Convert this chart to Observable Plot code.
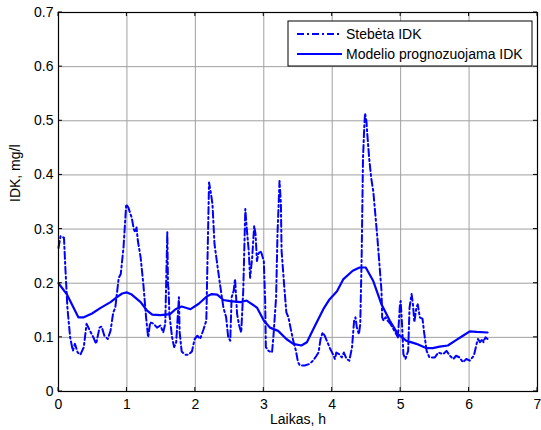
<!DOCTYPE html>
<html>
<head>
<meta charset="utf-8">
<script src="https://cdn.jsdelivr.net/npm/d3@7"></script>
<script src="https://cdn.jsdelivr.net/npm/@observablehq/plot@0.6"></script>
<style>
  html, body { margin: 0; padding: 0; background: #fff; }
  #chart svg { display: block; }
</style>
</head>
<body>
<div id="chart"></div>
<script>
// Observed ("Stebėta IDK") series
const obsTime = [0.00,0.03,0.08,0.10,0.13,0.17,0.21,0.24,0.28,0.32,0.37,0.41,0.46,0.51,0.55,0.60,0.63,0.67,0.72,0.76,0.80,0.83,0.88,0.91,0.95,0.99,1.02,1.07,1.10,1.12,1.14,1.16,1.20,1.24,1.28,1.31,1.34,1.39,1.44,1.49,1.53,1.56,1.59,1.60,1.61,1.62,1.66,1.69,1.72,1.76,1.77,1.80,1.85,1.90,1.95,1.99,2.03,2.07,2.12,2.16,2.18,2.20,2.23,2.25,2.28,2.32,2.36,2.41,2.45,2.48,2.51,2.53,2.56,2.58,2.61,2.64,2.67,2.70,2.73,2.75,2.78,2.80,2.83,2.86,2.88,2.90,2.92,2.95,2.97,3.00,3.02,3.03,3.07,3.12,3.14,3.18,3.20,3.23,3.25,3.26,3.30,3.33,3.36,3.40,3.43,3.47,3.50,3.53,3.60,3.67,3.72,3.77,3.80,3.83,3.86,3.89,3.92,3.97,4.01,4.04,4.06,4.10,4.14,4.17,4.21,4.25,4.29,4.32,4.34,4.36,4.39,4.41,4.43,4.45,4.47,4.48,4.50,4.51,4.54,4.57,4.60,4.63,4.66,4.69,4.72,4.73,4.75,4.78,4.81,4.85,4.91,4.96,4.99,5.00,5.02,5.04,5.07,5.11,5.13,5.16,5.18,5.20,5.23,5.25,5.28,5.32,5.34,5.38,5.42,5.50,5.55,5.62,5.67,5.72,5.77,5.81,5.86,5.91,5.96,6.01,6.07,6.11,6.13,6.16,6.20,6.21,6.24,6.27];
const obsValue = [0.265,0.287,0.284,0.229,0.155,0.100,0.075,0.088,0.072,0.068,0.082,0.125,0.112,0.100,0.088,0.118,0.120,0.103,0.097,0.112,0.146,0.155,0.210,0.217,0.266,0.346,0.340,0.321,0.300,0.294,0.303,0.278,0.248,0.198,0.137,0.100,0.128,0.125,0.118,0.122,0.109,0.125,0.294,0.198,0.186,0.143,0.100,0.082,0.091,0.174,0.110,0.074,0.068,0.068,0.074,0.097,0.103,0.097,0.115,0.131,0.260,0.386,0.364,0.346,0.272,0.235,0.198,0.155,0.137,0.100,0.094,0.174,0.186,0.208,0.143,0.122,0.109,0.186,0.337,0.303,0.260,0.210,0.247,0.306,0.290,0.241,0.254,0.260,0.254,0.241,0.168,0.082,0.075,0.072,0.100,0.174,0.290,0.389,0.346,0.260,0.192,0.146,0.137,0.112,0.094,0.075,0.054,0.048,0.048,0.051,0.057,0.066,0.072,0.097,0.109,0.103,0.094,0.079,0.069,0.060,0.072,0.069,0.063,0.072,0.060,0.057,0.082,0.131,0.137,0.118,0.106,0.125,0.247,0.431,0.493,0.514,0.499,0.480,0.431,0.394,0.370,0.327,0.284,0.235,0.186,0.137,0.131,0.137,0.131,0.125,0.112,0.100,0.161,0.167,0.125,0.069,0.060,0.075,0.155,0.180,0.161,0.128,0.155,0.161,0.137,0.134,0.112,0.075,0.063,0.063,0.072,0.069,0.075,0.066,0.060,0.066,0.063,0.054,0.060,0.057,0.066,0.088,0.097,0.091,0.097,0.091,0.100,0.097];

// Model-predicted ("Modelio prognozuojama IDK") series
const modelTime = [0.00,0.12,0.29,0.37,0.49,0.61,0.76,0.85,0.93,1.00,1.07,1.20,1.29,1.37,1.49,1.63,1.71,1.80,1.93,2.05,2.17,2.24,2.32,2.41,2.51,2.66,2.75,2.90,3.00,3.09,3.21,3.33,3.43,3.55,3.63,3.75,3.87,3.96,4.07,4.16,4.30,4.40,4.49,4.60,4.72,4.84,4.96,5.08,5.23,5.38,5.47,5.57,5.69,5.81,5.91,6.01,6.11,6.27];
const modelValue = [0.200,0.180,0.137,0.137,0.144,0.154,0.165,0.174,0.181,0.183,0.179,0.165,0.150,0.142,0.141,0.143,0.152,0.157,0.152,0.162,0.176,0.180,0.179,0.169,0.167,0.165,0.168,0.155,0.131,0.118,0.112,0.097,0.088,0.085,0.091,0.122,0.152,0.170,0.185,0.207,0.223,0.229,0.229,0.204,0.161,0.131,0.106,0.094,0.088,0.080,0.080,0.083,0.085,0.095,0.103,0.111,0.110,0.109];

// Axis ticks and labels
const xTicks = [0,1,2,3,4,5,6,7];
const yTicks = [0,0.1,0.2,0.3,0.4,0.5,0.6,0.7];
const xLabel = "Laikas, h";
const yLabel = "IDK, mg/l";
const seriesNames = ["Stebėta IDK", "Modelio prognozuojama IDK"];

const observed = obsTime.map((t, i) => ({t, v: obsValue[i]}));
const model = modelTime.map((t, i) => ({t, v: modelValue[i]}));

const blue = "#0000ff";
const dashDot = "7,3,2,3";
const font = "'Liberation Sans', Arial, sans-serif";

const plot = Plot.plot({
  width: 541,
  height: 430,
  marginLeft: 58,
  marginRight: 4,
  marginTop: 12,
  marginBottom: 39,
  style: {fontFamily: font, fontSize: "14px", color: "#000", background: "#fff"},
  x: {domain: [0, 7], ticks: xTicks},
  y: {domain: [0, 0.7], ticks: yTicks},
  marks: [
    Plot.gridX(xTicks, {stroke: "#a0a0a0", strokeOpacity: 1, strokeWidth: 1}),
    Plot.gridY(yTicks, {stroke: "#a0a0a0", strokeOpacity: 1, strokeWidth: 1}),
    Plot.line(observed, {x: "t", y: "v", stroke: blue, strokeWidth: 2, strokeDasharray: dashDot, curve: "linear"}),
    Plot.line(model, {x: "t", y: "v", stroke: blue, strokeWidth: 2.2, curve: "linear"}),
    Plot.axisX(xTicks, {tickSize: 0, tickPadding: 8, label: null, fontSize: 14}),
    Plot.axisY(yTicks, {tickSize: 0, tickPadding: 5, label: null, fontSize: 14, tickFormat: d => d3.format("")(+d.toFixed(1))}),
    Plot.text([xLabel], {frameAnchor: "bottom", text: d => d, dy: 32, fontSize: 14}),
    Plot.text([yLabel], {frameAnchor: "left", text: d => d, rotate: -90, dx: -43, fontSize: 14}),
    Plot.frame({stroke: "#000", strokeWidth: 1.2})
  ]
});

document.getElementById("chart").appendChild(plot);

// Inward tick marks and legend, drawn in pixel space from the plot's scales
const sx = plot.scale("x"), sy = plot.scale("y");
const svg = d3.select(plot);
const g = svg.append("g").attr("stroke", "#000").attr("stroke-width", 1);
const xr = sx.range, yr = sy.range; // yr = [bottom, top]
xTicks.forEach(t => {
  const px = sx.apply(t);
  g.append("line").attr("x1", px).attr("x2", px).attr("y1", yr[0]).attr("y2", yr[0] - 4);
  g.append("line").attr("x1", px).attr("x2", px).attr("y1", yr[1]).attr("y2", yr[1] + 4);
});
yTicks.forEach(t => {
  const py = sy.apply(t);
  g.append("line").attr("x1", xr[0]).attr("x2", xr[0] + 4).attr("y1", py).attr("y2", py);
  g.append("line").attr("x1", xr[1]).attr("x2", xr[1] - 4).attr("y1", py).attr("y2", py);
});

const lg = svg.append("g")
  .attr("font-family", font)
  .attr("font-size", 14)
  .attr("text-anchor", "start");
const lx = 288, ly = 21, lw = 244, lh = 45;
lg.append("rect").attr("x", lx).attr("y", ly).attr("width", lw).attr("height", lh)
  .attr("fill", "#fff").attr("stroke", "#000").attr("stroke-width", 1);
const rows = [ly + 13, ly + 33];
const dashes = [dashDot, "none"];
seriesNames.forEach((name, i) => {
  lg.append("line").attr("x1", lx + 9).attr("x2", lx + 54).attr("y1", rows[i]).attr("y2", rows[i])
    .attr("stroke", blue).attr("stroke-width", 2).attr("stroke-dasharray", dashes[i]);
  lg.append("text").attr("x", lx + 58).attr("y", rows[i]).attr("dy", "0.35em")
    .attr("text-anchor", "start").attr("fill", "#000").text(name);
});
</script>
</body>
</html>
